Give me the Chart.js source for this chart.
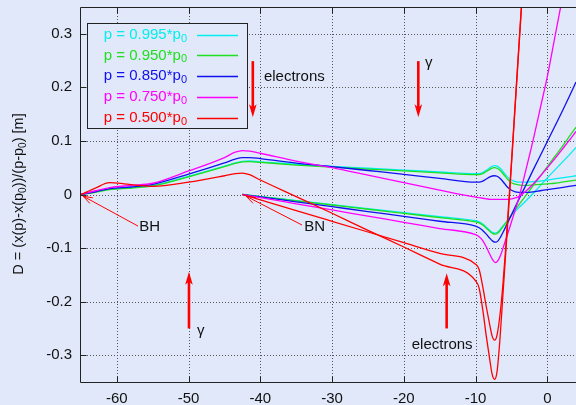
<!DOCTYPE html>
<html><head><meta charset="utf-8">
<script src="https://cdn.jsdelivr.net/npm/chart.js@4/dist/chart.umd.min.js"></script>
<style>html,body{margin:0;padding:0;background:#e1e8f9;}#wrap{width:576px;height:405px;position:relative;}canvas{display:block;}</style>
</head><body>
<div id="wrap"><canvas id="c"></canvas></div>
<script>
// ---------- data ----------
const legendLabels = ['p = 0.995*p', 'p = 0.950*p', 'p = 0.850*p', 'p = 0.750*p', 'p = 0.500*p'];
const xTicks = [-60, -50, -40, -30, -20, -10, 0];
const yTicks = [-0.3, -0.2, -0.1, 0, 0.1, 0.2, 0.3];

// branch starting at BH (x=-65)
const xUpper = [-65,-63,-61,-58,-55,-50,-45,-43.5,-42.5,-41.5,-40,-35,-30,-25,-20,-15,-10,-9.5,-9,-8.5,-8,-7.4,-7,-6.5,-6,-5.5,-5,-4,-3,-2,-1,0,1,2,3,4];
const cyanUpper    = [0,0.005,0.010,0.013,0.017,0.034,0.053,0.059,0.062,0.0625,0.061,0.0565,0.0525,0.049,0.0455,0.042,0.039,0.039,0.041,0.045,0.050,0.054,0.053,0.048,0.040,0.032,0.027,0.023,0.023,0.024,0.025,0.027,0.029,0.031,0.033,0.035];
const greenUpper   = [0,0.004,0.009,0.012,0.016,0.033,0.052,0.058,0.061,0.0615,0.060,0.055,0.051,0.0475,0.044,0.0405,0.037,0.037,0.039,0.043,0.047,0.050,0.049,0.044,0.036,0.028,0.022,0.018,0.017,0.018,0.019,0.020,0.021,0.023,0.025,0.027];
const blueUpper    = [0,0.005,0.011,0.014,0.019,0.038,0.059,0.066,0.069,0.069,0.067,0.0587,0.052,0.0448,0.0377,0.030,0.023,0.023,0.025,0.029,0.033,0.035,0.034,0.029,0.021,0.013,0.008,0.004,0.004,0.005,0.007,0.009,0.011,0.013,0.015,0.017];
const magentaUpper = [0,0.007,0.013,0.017,0.021,0.044,0.069,0.079,0.082,0.081,0.077,0.0625,0.050,0.036,0.022,0.008,-0.005,-0.006,-0.007,-0.008,-0.009,-0.009,-0.009,-0.009,-0.009,-0.009,-0.008,-0.004,0.006,0.019,0.034,0.050,0.066,0.083,0.100,0.118];
const xRedUpper = [-65,-63,-61,-59,-57,-55,-50,-45,-43.5,-42.5,-41.5,-40,-35,-30,-25,-20,-15,-10,-9.5,-9,-8.5,-8,-7.7,-7.35,-7,-6.6,-6.2,-5.8,-5.4,-5,-4.5,-4,-3.5,-3];
const redUpper  = [0,0.012,0.022,0.020,0.017,0.015,0.023,0.035,0.039,0.040,0.037,0.027,-0.004,-0.035,-0.067,-0.098,-0.130,-0.161,-0.175,-0.215,-0.265,-0.310,-0.335,-0.345,-0.330,-0.270,-0.190,-0.110,-0.030,0.055,0.160,0.265,0.370,0.480];

// branch starting at BN (x=-42.5)
const xLower = [-42.5,-40,-35,-30,-25,-20,-15,-10,-9.5,-9,-8.5,-8,-7.6,-7.25,-6.9,-6.5,-6,-5.25,-4.5,-4,-3,-2,-1,0,1,2,3,4];
const cyanLower    = [0,-0.0038,-0.0113,-0.0188,-0.0264,-0.0339,-0.0415,-0.049,-0.051,-0.055,-0.061,-0.067,-0.071,-0.072,-0.070,-0.064,-0.056,-0.043,-0.032,-0.025,-0.012,0.002,0.016,0.031,0.045,0.059,0.073,0.088];
const greenLower   = [0,-0.0039,-0.0118,-0.0196,-0.0275,-0.0353,-0.0432,-0.051,-0.053,-0.057,-0.063,-0.069,-0.073,-0.074,-0.072,-0.066,-0.057,-0.043,-0.029,-0.020,-0.002,0.016,0.034,0.052,0.070,0.088,0.107,0.126];
const blueLower    = [0,-0.0045,-0.0136,-0.0227,-0.0318,-0.0408,-0.0499,-0.059,-0.062,-0.067,-0.074,-0.082,-0.087,-0.089,-0.087,-0.079,-0.066,-0.045,-0.024,-0.010,0.017,0.045,0.072,0.099,0.126,0.153,0.181,0.210];
const magentaLower = [0,-0.0058,-0.0173,-0.0288,-0.0404,-0.0519,-0.0635,-0.075,-0.079,-0.086,-0.098,-0.112,-0.122,-0.127,-0.124,-0.113,-0.093,-0.062,-0.030,-0.008,0.045,0.100,0.160,0.220,0.290,0.360,0.430,0.500];
const xRedLower = [-42.5,-40,-35,-30,-25,-20,-15,-10,-9.5,-9,-8.5,-8,-7.7,-7.35,-7,-6.6,-6.2,-5.8,-5.4,-5,-4.5,-4,-3.5,-3];
const redLower  = [0,-0.010,-0.030,-0.050,-0.070,-0.090,-0.110,-0.130,-0.140,-0.172,-0.210,-0.245,-0.264,-0.272,-0.262,-0.225,-0.170,-0.100,-0.020,0.060,0.165,0.270,0.375,0.480];

// ---------- styles ----------
const BG = '#e1e8f9';
const colors = ['#00eeee', '#1ee01e', '#1010f0', '#ff00ff', '#ff0000'];
const FONT = '"Liberation Sans", Arial, sans-serif';

function pts(xs, ys) { return xs.map((x, i) => ({ x: x, y: ys[i] })); }
const series = [
  [pts(xUpper, cyanUpper), pts(xLower, cyanLower)],
  [pts(xUpper, greenUpper), pts(xLower, greenLower)],
  [pts(xUpper, blueUpper), pts(xLower, blueLower)],
  [pts(xUpper, magentaUpper), pts(xLower, magentaLower)],
  [pts(xRedUpper, redUpper), pts(xRedLower, redLower)]
];
const datasets = [];
series.forEach((pair, i) => {
  pair.forEach(d => datasets.push({
    data: d, borderColor: colors[i], borderWidth: 1.3, pointRadius: 0,
    fill: false, cubicInterpolationMode: 'monotone', order: 10 - i
  }));
});

// annotations (data coordinates)
const bigArrows = [
  { x: -41.05, y1: 0.249, y2: 0.144 },
  { x: -17.98, y1: 0.249, y2: 0.144 },
  { x: -49.95, y1: -0.25, y2: -0.144 },
  { x: -14.03, y1: -0.25, y2: -0.147 }
];
const thinArrows = [
  { x1: -57.05, y1: -0.059, x2: -64.72, y2: -0.003 },
  { x1: -34.19, y1: -0.057, x2: -42.0, y2: -0.003 }
];
const notes = [
  { t: 'electrons', x: -39.5, y: 0.219, base: 'middle' },
  { t: 'γ', x: -17.05, y: 0.238, base: 'alphabetic' },
  { t: 'γ', x: -48.83, y: -0.262, base: 'alphabetic' },
  { t: 'electrons', x: -18.9, y: -0.281, base: 'middle' },
  { t: 'BH', x: -56.87, y: -0.060, base: 'middle' },
  { t: 'BN', x: -33.87, y: -0.060, base: 'middle' }
];

function crisp(v) { return Math.round(v) + 0.5; }

function drawRuns(ctx, runs, x, y, size, align) {
  const mainF = size + 'px ' + FONT, subF = Math.round(size * 0.72) + 'px ' + FONT;
  let total = 0;
  runs.forEach(r => { ctx.font = r[1] ? subF : mainF; total += ctx.measureText(r[0]).width; });
  let cx = align === 'right' ? x - total : (align === 'center' ? x - total / 2 : x);
  ctx.textAlign = 'left';
  runs.forEach(r => {
    ctx.font = r[1] ? subF : mainF;
    ctx.fillText(r[0], cx, y + (r[1] ? 4 : 0));
    cx += ctx.measureText(r[0]).width;
  });
}

const decor = {
  id: 'decor',
  beforeDatasetsDraw(chart) {
    const { ctx, chartArea: a, scales: { x, y } } = chart;
    ctx.save();
    ctx.strokeStyle = '#555'; ctx.lineWidth = 1; ctx.setLineDash([1, 2]);
    xTicks.forEach(v => { const px = crisp(x.getPixelForValue(v)); ctx.beginPath(); ctx.moveTo(px, a.top); ctx.lineTo(px, a.bottom); ctx.stroke(); });
    yTicks.forEach(v => { const py = crisp(y.getPixelForValue(v)); ctx.beginPath(); ctx.moveTo(a.left, py); ctx.lineTo(a.right, py); ctx.stroke(); });
    ctx.restore();
  },
  afterDatasetsDraw(chart) {
    const { ctx, chartArea: a, scales: { x, y } } = chart;
    ctx.save();
    ctx.strokeStyle = '#222'; ctx.lineWidth = 1; ctx.setLineDash([]);
    const L = crisp(a.left) - 1, B = crisp(a.bottom), T = crisp(a.top);
    ctx.beginPath(); ctx.moveTo(L, T); ctx.lineTo(L, B); ctx.lineTo(a.right + 2, B); ctx.moveTo(L, T); ctx.lineTo(a.right + 2, T); ctx.stroke();
    ctx.beginPath();
    yTicks.forEach(v => { const py = crisp(y.getPixelForValue(v)); ctx.moveTo(L, py); ctx.lineTo(L + 6, py); });
    xTicks.forEach(v => { const px = crisp(x.getPixelForValue(v)); ctx.moveTo(px, B); ctx.lineTo(px, B - 6); ctx.moveTo(px, T); ctx.lineTo(px, T + 6); });
    ctx.stroke();

    ctx.strokeStyle = '#ff0000'; ctx.fillStyle = '#ff0000';
    bigArrows.forEach(ar => {
      const px = x.getPixelForValue(ar.x), p1 = y.getPixelForValue(ar.y1), p2 = y.getPixelForValue(ar.y2);
      const dir = p2 > p1 ? 1 : -1, hl = 13, hw = 3.8;
      ctx.lineWidth = 2.6;
      ctx.beginPath(); ctx.moveTo(px, p1); ctx.lineTo(px, p2 - dir * hl * 0.6); ctx.stroke();
      ctx.beginPath(); ctx.moveTo(px, p2); ctx.lineTo(px - hw, p2 - dir * hl); ctx.lineTo(px, p2 - dir * hl * 0.75); ctx.lineTo(px + hw, p2 - dir * hl); ctx.closePath(); ctx.fill();
    });
    ctx.lineWidth = 1;
    thinArrows.forEach(ar => {
      const x1 = x.getPixelForValue(ar.x1), y1 = y.getPixelForValue(ar.y1), x2 = x.getPixelForValue(ar.x2), y2 = y.getPixelForValue(ar.y2);
      const ang = Math.atan2(y2 - y1, x2 - x1), hl = 10, da = 0.32;
      ctx.beginPath(); ctx.moveTo(x1, y1); ctx.lineTo(x2, y2);
      ctx.moveTo(x2 - hl * Math.cos(ang - da), y2 - hl * Math.sin(ang - da)); ctx.lineTo(x2, y2);
      ctx.lineTo(x2 - hl * Math.cos(ang + da), y2 - hl * Math.sin(ang + da));
      ctx.stroke();
    });
    ctx.fillStyle = '#111'; ctx.font = '15px ' + FONT; ctx.textAlign = 'left';
    notes.forEach(n => { ctx.textBaseline = n.base; ctx.fillText(n.t, x.getPixelForValue(n.x), y.getPixelForValue(n.y)); });
    ctx.restore();
  },
  afterDraw(chart) {
    const { ctx } = chart;
    ctx.save();
    ctx.fillStyle = BG; ctx.fillRect(87.5, 23.5, 160, 105);
    ctx.strokeStyle = '#222'; ctx.lineWidth = 1; ctx.setLineDash([]);
    ctx.strokeRect(87.5, 23.5, 160, 105);
    ctx.textBaseline = 'middle';
    legendLabels.forEach((lab, i) => {
      const ry = 34.5 + i * 20.9;
      ctx.fillStyle = colors[i];
      drawRuns(ctx, [[lab, 0], ['0', 1]], 187, ry, 15, 'right');
      ctx.strokeStyle = colors[i]; ctx.lineWidth = 1.5;
      ctx.beginPath(); ctx.moveTo(197, Math.round(ry) + 0.5); ctx.lineTo(238, Math.round(ry) + 0.5); ctx.stroke();
    });
    ctx.translate(19, 194);
    ctx.rotate(-Math.PI / 2);
    ctx.fillStyle = '#111'; ctx.textBaseline = 'middle';
    drawRuns(ctx, [['D = (x(p)-x(p', 0], ['0', 1], ['))/(p-p', 0], ['0', 1], [') [m]', 0]], 0, 0, 14.5, 'center');
    ctx.restore();
  }
};

Chart.defaults.font.family = FONT;
Chart.defaults.font.size = 15;
Chart.defaults.color = '#111';

function noPad(s) { s.paddingTop = 0; s.paddingBottom = 0; s.paddingLeft = 0; s.paddingRight = 0; }

new Chart(document.getElementById('c'), {
  type: 'line',
  data: { datasets: datasets },
  options: {
    responsive: true, maintainAspectRatio: false, animation: false,
    layout: { padding: { top: 7, right: 0, bottom: 0, left: 0 } },
    plugins: { legend: { display: false }, tooltip: { enabled: false } },
    scales: {
      x: {
        type: 'linear', min: -65, max: 4,
        afterBuildTicks: s => { s.ticks = xTicks.map(v => ({ value: v })); },
        afterFit: s => { s.height = 23; noPad(s); },
        grid: { display: false, drawTicks: false }, border: { display: false },
        ticks: { padding: 8, maxRotation: 0, callback: v => String(v) }
      },
      y: {
        type: 'linear', min: -0.35, max: 0.35,
        afterBuildTicks: s => { s.ticks = yTicks.map(v => ({ value: v })); },
        afterFit: s => { s.width = 81; noPad(s); },
        grid: { display: false, drawTicks: false }, border: { display: false },
        ticks: { padding: 9, callback: v => String(v) }
      }
    }
  },
  plugins: [decor]
});
</script>
</body></html>
